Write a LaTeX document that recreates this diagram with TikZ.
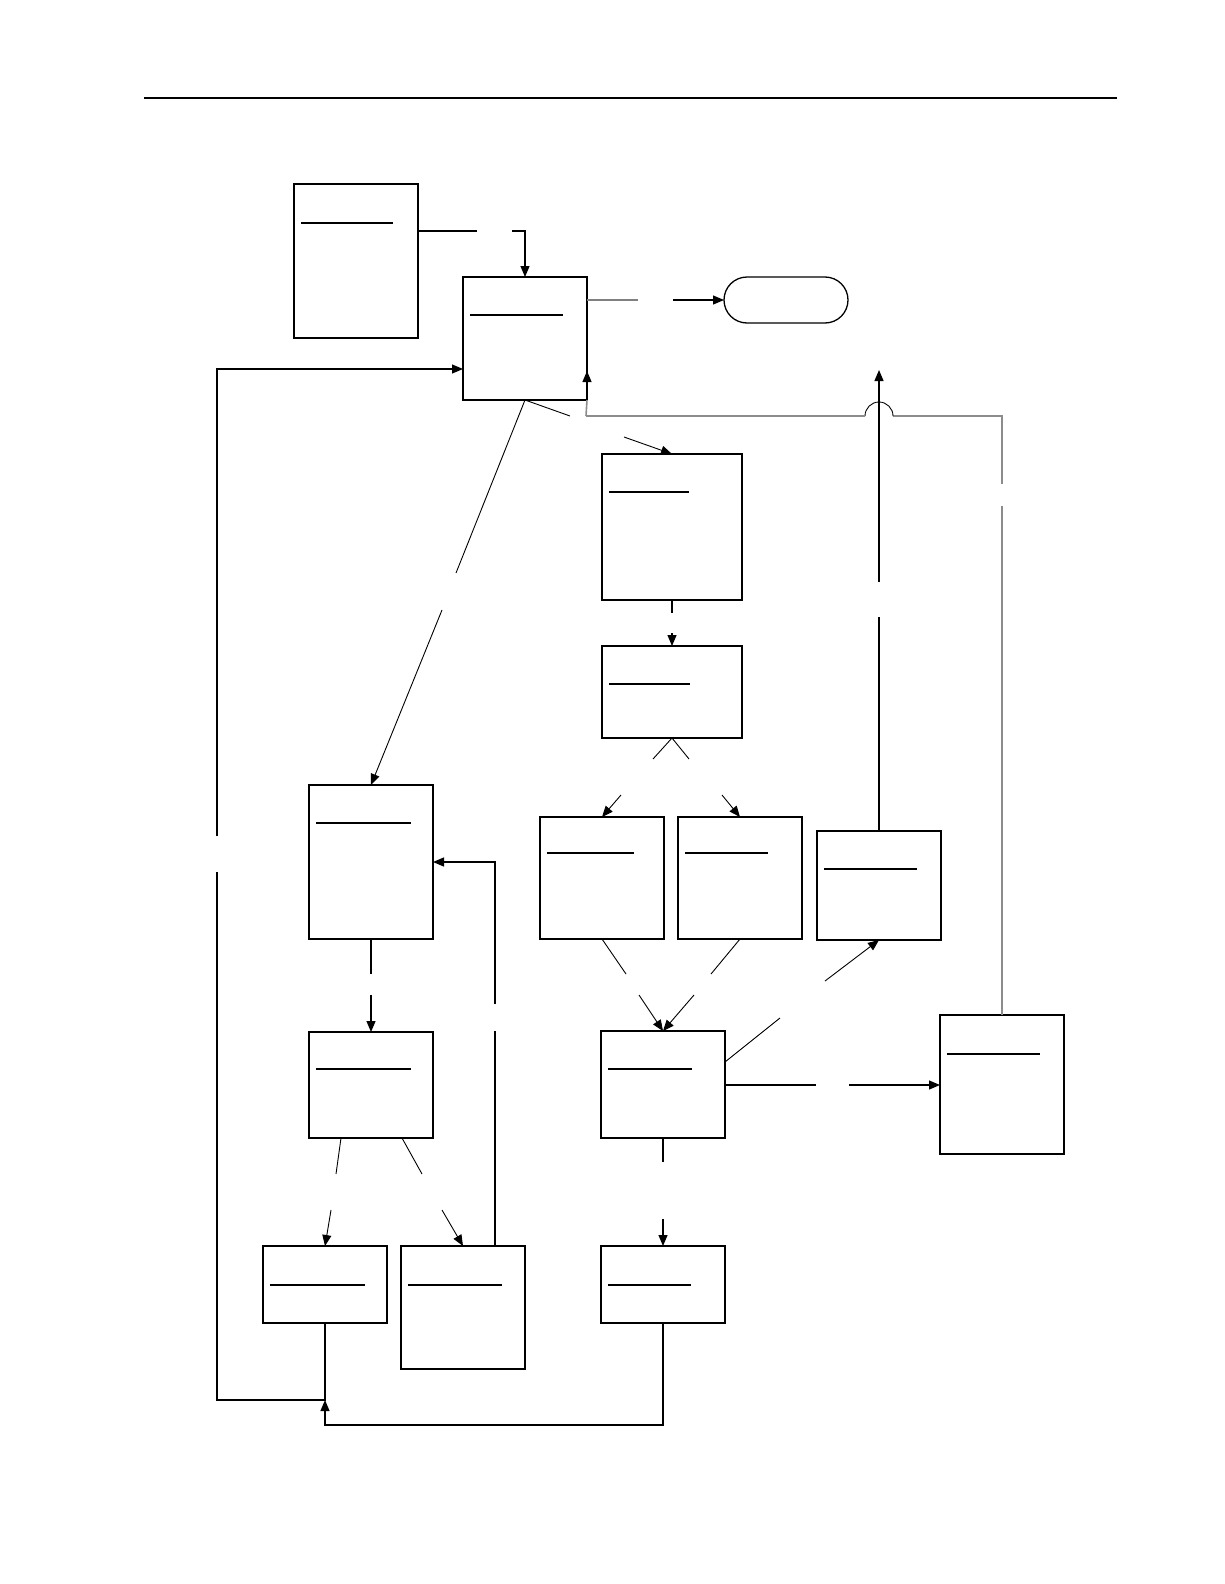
\documentclass[tikz,border=0pt]{standalone}
\usetikzlibrary{arrows.meta,calc}
\definecolor{lgray}{RGB}{140,140,140}
\tikzset{
  box/.style={draw,line width=1.4pt,inner sep=0pt,outer sep=0pt,anchor=north west},
  tl/.style={line width=1.4pt},
  con/.style={line width=1.2pt},
  thin/.style={line width=0.9pt},
  arr/.style={-{Triangle[length=11pt,width=9pt]}},
  gcon/.style={line width=1.6pt,color=lgray},
}
\newcommand{\tline}[3]{\draw[tl] ($(#1.north west)+(7,#2)$) -- ++(#3,0);}
\begin{document}
\begin{tikzpicture}[x=1pt,y=-1pt]
\useasboundingbox (0,0) rectangle (1224,1584);
% header rule
\draw[line width=2.5pt] (144,98) coordinate (h1) -- (1117,98) coordinate (h2);
% boxes
\node[box,minimum width=124,minimum height=154] (A) at (294,184) {};
\node[box,minimum width=124,minimum height=123] (B) at (463,277) {};
\node[draw,line width=1.3pt,rounded corners=23,minimum width=124,minimum height=46,inner sep=0pt,outer sep=0pt,anchor=north west] (T) at (724,277) {};
\node[box,minimum width=140,minimum height=146] (C) at (602,454) {};
\node[box,minimum width=140,minimum height=92] (D) at (602,646) {};
\node[box,minimum width=124,minimum height=154] (E) at (309,785) {};
\node[box,minimum width=124,minimum height=122] (F) at (540,817) {};
\node[box,minimum width=124,minimum height=122] (G) at (678,817) {};
\node[box,minimum width=124,minimum height=109] (H) at (817,831) {};
\node[box,minimum width=124,minimum height=106] (I) at (309,1032) {};
\node[box,minimum width=124,minimum height=107] (J) at (601,1031) {};
\node[box,minimum width=124,minimum height=139] (K) at (940,1015) {};
\node[box,minimum width=124,minimum height=77] (L) at (263,1246) {};
\node[box,minimum width=124,minimum height=123] (M) at (401,1246) {};
\node[box,minimum width=124,minimum height=77] (N) at (601,1246) {};
% title rules inside boxes
\tline{A}{39}{92}
\tline{B}{38}{93}
\tline{C}{38}{80}
\tline{D}{38}{81}
\tline{E}{38}{95}
\tline{F}{36}{87}
\tline{G}{36}{83}
\tline{H}{38}{93}
\tline{I}{37}{95}
\tline{J}{38}{84}
\tline{K}{39}{93}
\tline{L}{39}{95}
\tline{M}{39}{94}
\tline{N}{39}{83}
% connectors
% A -> B
\draw[con] (A.east |- 0,231) -- (477,231);
\draw[con,arr] (512,231) -- (B.north |- 0,231) -- (B.north);
% B -> T
\draw[con,color=gray] (B.east |- T.west) -- (638,300);
\draw[con,arr] (673,300) -- (T.west);
% B -> C
\draw[thin] (B.south) -- (570,416);
\draw[thin,arr] (624,437) -- (C.north);
% B -> E
\draw[thin] (B.south) -- (456,573);
\draw[thin,arr] (442,610) -- (E.north);
% C -> D
\draw[con] (C.south) -- ++(0,13);
\draw[con,arr] ($(D.north)+(0,-13)$) -- (D.north);
% D -> F, D -> G
\draw[thin] (D.south) -- (653,759);
\draw[thin,arr] (621,795) -- (F.north);
\draw[thin] (D.south) -- (689,759);
\draw[thin,arr] (722,795) -- (G.north);
% F -> J, G -> J
\draw[thin] (F.south) -- (626,974);
\draw[thin,arr] (639,995) -- (J.north);
\draw[thin] (G.south) -- (711,974);
\draw[thin,arr] (694,995) -- (J.north);
% J -> H
\draw[thin] (J.east |- 0,1062) -- (780,1018);
\draw[thin,arr] (825,981) -- (H.south);
% J -> K
\draw[con] (J.east |- 0,1085) -- (816,1085);
\draw[con,arr] (849,1085) -- (K.west |- 0,1085);
% H -> up
\coordinate (hup) at (879,370);
\draw[con] (H.north) -- (879,617);
\draw[con,arr] (879,582) -- (hup);
% K -> B (gray with hump)
\draw[gcon] (K.north) -- (K.north |- 0,506);
\draw[gcon] (K.north |- 0,484) -- (K.north |- 0,416) -- (893,416);
\draw[line width=0.9pt] (893,416) arc[start angle=0,end angle=-180,radius=14];
\draw[gcon] (865,416) -- (586,416);
\draw[gcon] (586,416) -- (B.south east);
\draw[con,arr] (B.south east) -- ($(B.south east)+(0,-29)$);
% J -> N
\draw[con] (J.south) -- ++(0,24);
\draw[con,arr] ($(N.north)+(0,-27)$) -- (N.north);
% E -> I
\draw[con] (E.south) -- ++(0,35);
\draw[con,arr] ($(I.north)+(0,-37)$) -- (I.north);
% I -> L, I -> M
\draw[thin] (I.south -| 341,0) -- (336,1174);
\draw[thin,arr] (331,1210) -- (L.north);
\draw[thin] (I.south -| 402,0) -- (422,1174);
\draw[thin,arr] (442,1210) -- (M.north);
% M -> E
\draw[con] (M.north -| 495,0) -- (495,1031);
\draw[con,arr] (495,1004) -- (495,862) -- (E.east |- 0,862);
% L -> loop -> B
\coordinate (jn) at (325,1400);
\draw[con] (L.south) -- (jn) -- (217,1400) -- (217,872);
\draw[con,arr] (217,836) -- (217,369) -- (B.west |- 0,369);
% N -> junction
\draw[con,arr] (N.south) -- (N.south |- 0,1425) -- (325,1425) -- (jn);
\end{tikzpicture}
\end{document}
